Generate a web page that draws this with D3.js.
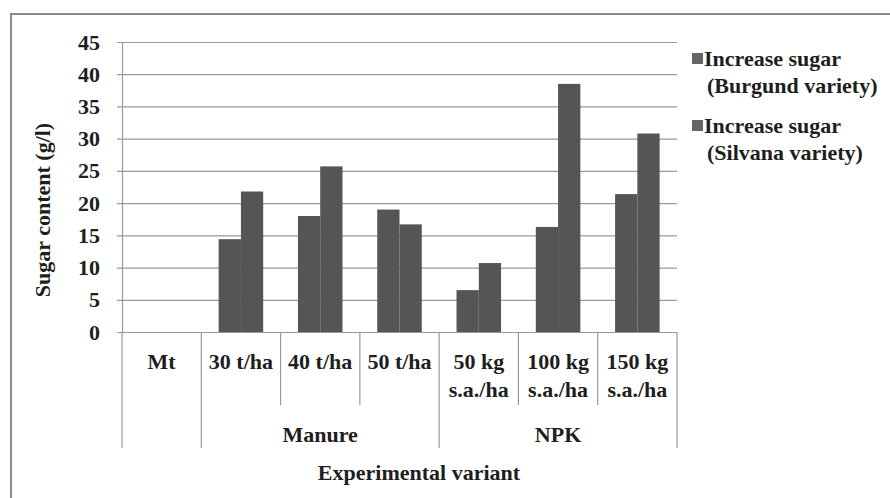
<!DOCTYPE html>
<html>
<head>
<meta charset="utf-8">
<script src="https://cdn.jsdelivr.net/npm/d3@7"></script>
</head>
<body style="margin:0; background:#fff">
<svg id="chart"></svg>
<script>
// category labels (each entry = lines of the label)
var categories = [["Mt"], ["30 t/ha"], ["40 t/ha"], ["50 t/ha"],
                  ["50 kg", "s.a./ha"], ["100 kg", "s.a./ha"], ["150 kg", "s.a./ha"]];
// groups under the categories: name + how many categories they span
var groupNames = ["", "Manure", "NPK"];
var groupSizes = [1, 3, 3];

var seriesNames = ["Increase sugar (Burgund variety)", "Increase sugar (Silvana variety)"];
var legendLines = [["Increase sugar", "(Burgund variety)"], ["Increase sugar", "(Silvana variety)"]];
var burgund = [0, 14.4, 18.0, 19.0, 6.5, 16.3, 21.4];
var silvana = [0, 21.8, 25.7, 16.7, 10.7, 38.5, 30.8];

var yTicks = [0, 5, 10, 15, 20, 25, 30, 35, 40, 45];

var TEXT_COLOR = "#1e1e1e";

drawChart();

// common text styling
function styleText(sel) {
    return sel.attr("font-family", "Liberation Serif")
        .style("font-family", "'Liberation Serif', serif")
        .attr("font-weight", "bold")
        .attr("font-size", 22)
        .attr("fill", TEXT_COLOR);
}

function drawChart() {
    var svgWidth = 890, svgHeight = 498;
    var plot = { left: 122, right: 677, top: 42, bottom: 332 };
    var barColor = "#555555";
    var lineColor = "#9a9a9a";

    var svg = d3.select("#chart")
        .attr("width", svgWidth)
        .attr("height", svgHeight)
        .attr("font-family", "Liberation Serif");

    // outer frame (runs off the right and bottom of the picture)
    svg.append("rect")
        .attr("x", 11).attr("y", 14)
        .attr("width", 900).attr("height", 520)
        .attr("fill", "none")
        .attr("stroke", "#8a8a8a")
        .attr("stroke-width", 2);

    var keys = categories.map(function(d) { return d.join(" "); });

    var x = d3.scaleBand()
        .domain(keys)
        .range([plot.left, plot.right])
        .padding(0);

    var xs = d3.scaleBand() // position of the two bars inside a category
        .domain(seriesNames)
        .range([0, x.bandwidth()])
        .paddingInner(0)
        .paddingOuter(0.78);

    var y = d3.scaleLinear()
        .domain([0, 45])
        .range([plot.bottom, plot.top]);

    // gridlines + left tick marks
    var grid = svg.append("g")
        .attr("transform", "translate(" + (plot.left - 5) + ",0)")
        .call(d3.axisRight(y).tickValues(yTicks).tickSize(plot.right - plot.left + 5).tickFormat(""));
    grid.select(".domain").remove();
    grid.selectAll("line").attr("stroke", lineColor).attr("stroke-width", 1.2);

    // y tick labels
    var yAxis = svg.append("g")
        .attr("transform", "translate(" + plot.left + ",0)")
        .call(d3.axisLeft(y).tickValues(yTicks).tickSize(0).tickPadding(22))
        .attr("font-family", "Liberation Serif");
    yAxis.select(".domain").attr("stroke", lineColor).attr("stroke-width", 1.2);
    styleText(yAxis.selectAll("text"));

    // bars
    var data = keys.map(function(k, i) {
        return { key: k, values: [burgund[i], silvana[i]] };
    });

    svg.append("g")
        .selectAll("g")
        .data(data)
        .join("g")
        .attr("transform", function(d) { return "translate(" + x(d.key) + ",0)"; })
        .selectAll("rect")
        .data(function(d) { return d.values.map(function(v, j) { return { name: seriesNames[j], value: v }; }); })
        .join("rect")
        .attr("x", function(d) { return xs(d.name); })
        .attr("y", function(d) { return y(d.value); })
        .attr("width", xs.bandwidth())
        .attr("height", function(d) { return y(0) - y(d.value); })
        .attr("fill", barColor);

    // category separators under the axis, longer ones at group edges
    var sepShort = 405, sepLong = 448;
    var edges = keys.map(function(k) { return x(k); }).concat([plot.right]);
    var groupEdges = [0];
    groupSizes.forEach(function(n) { groupEdges.push(groupEdges[groupEdges.length - 1] + n); });

    svg.append("g")
        .selectAll("line")
        .data(edges)
        .join("line")
        .attr("x1", function(d) { return d; })
        .attr("x2", function(d) { return d; })
        .attr("y1", plot.bottom)
        .attr("y2", function(d, i) { return groupEdges.indexOf(i) >= 0 ? sepLong : sepShort; })
        .attr("stroke", lineColor)
        .attr("stroke-width", 1.2);

    // category labels
    var catLabels = styleText(svg.append("g")
        .selectAll("text")
        .data(categories)
        .join("text"))
        .attr("text-anchor", "middle")
        .attr("x", function(d, i) { return x(keys[i]) + x.bandwidth() / 2; })
        .attr("y", 369);
    catLabels.selectAll("tspan")
        .data(function(d) { return d; })
        .join("tspan")
        .attr("x", function() { return d3.select(this.parentNode).attr("x"); })
        .attr("dy", function(d, i) { return i === 0 ? 0 : 28; })
        .text(function(d) { return d; });

    // group labels
    styleText(svg.append("g")
        .selectAll("text")
        .data(groupNames)
        .join("text"))
        .attr("text-anchor", "middle")
        .attr("x", function(d, i) {
            return (edges[groupEdges[i]] + edges[groupEdges[i + 1]]) / 2;
        })
        .attr("y", 442)
        .text(function(d) { return d; });

    // axis titles
    styleText(svg.append("text"))
        .attr("text-anchor", "middle")
        .attr("x", 419)
        .attr("y", 480)
        .text("Experimental variant");

    styleText(svg.append("text"))
        .attr("text-anchor", "middle")
        .attr("transform", "translate(50,210) rotate(-90)")
        .text("Sugar content (g/l)");

    // legend
    var legend = svg.append("g")
        .selectAll("g")
        .data(legendLines)
        .join("g")
        .attr("transform", function(d, i) { return "translate(692," + (53 + i * 67) + ")"; });

    legend.append("rect")
        .attr("width", 11)
        .attr("height", 11)
        .attr("fill", "#666666");

    styleText(legend.append("text"))
        .attr("y", 13)
        .selectAll("tspan")
        .data(function(d) { return d; })
        .join("tspan")
        .attr("x", function(d, i) { return i === 0 ? 12 : 15; })
        .attr("dy", function(d, i) { return i === 0 ? 0 : 27; })
        .text(function(d) { return d; });
}
</script>
</body>
</html>
